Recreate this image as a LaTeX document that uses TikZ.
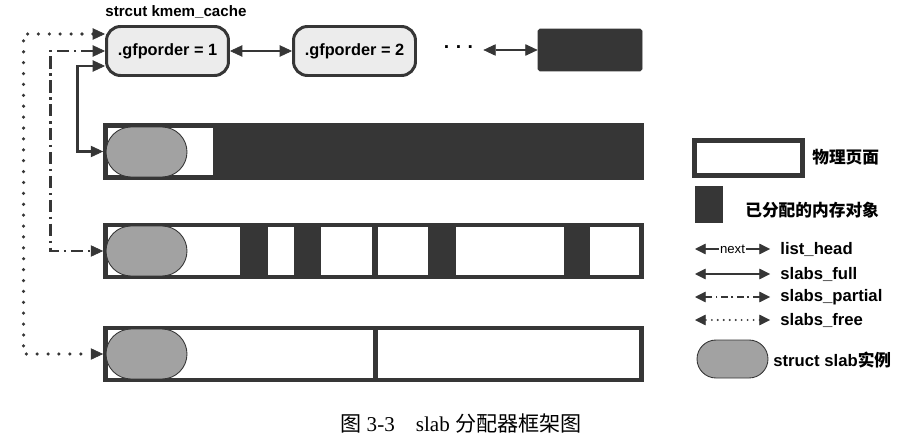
\documentclass[tikz,border=0pt]{standalone}
\usepackage{fontspec}
\setmainfont{Liberation Serif}
\newfontfamily\lsans{Liberation Sans}
\newfontfamily\cjk{Noto Sans CJK SC}
\usetikzlibrary{arrows.meta, shapes.misc, positioning}
\definecolor{ink}{HTML}{363636}
\definecolor{cachefill}{HTML}{ECECEC}
\definecolor{slabfill}{HTML}{A2A2A2}
\tikzset{
  % Set arrowhead
  >={Triangle[length=7pt,width=6.5pt,line width=0.4pt]},
  % kmem_cache node
  cache/.style={draw=ink, line width=1.7pt, fill=cachefill,
    rounded corners=0.28cm, minimum width=2.44cm, minimum height=0.98cm,
    inner sep=0pt, font=\lsans\bfseries\fontsize{9.3}{11}\selectfont},
  % Row of pages
  slabrow/.style={draw=ink, line width=2.8pt, fill=white,
    minimum width=10.72cm, minimum height=1.04cm, inner sep=0pt},
  % struct slab
  slabobj/.style={draw=ink, line width=0.5pt, fill=slabfill,
    shape=rounded rectangle, minimum width=1.62cm, minimum height=1cm,
    inner sep=0pt},
  % Links
  lfull/.style={<->, draw=ink, line width=1.2pt},
  lpartial/.style={lfull, line width=1.7pt,
    dash pattern=on 7pt off 2.6pt on 1.4pt off 2.6pt},
  lfree/.style={lfull, line width=2pt, line cap=round,
    dash pattern=on 0pt off 6.2pt},
  % Legend
  lbl/.style={anchor=west, inner sep=0pt,
    font=\lsans\bfseries\fontsize{9.5}{11}\selectfont},
  clbl/.style={lbl, font=\cjk\bfseries\fontsize{9.5}{11}\selectfont},
  legline/.style={<->, draw=ink, line width=0.9pt,
    >={Triangle[length=6pt,width=6pt,line width=0.3pt]}},
}

\begin{document}
\begin{tikzpicture}[x=0.02cm, y=-0.02cm]
  \useasboundingbox (0,0) rectangle (912,439);

  % kmem_cache list
  \node[cache] (g1) at (167.5,51) {.gfporder = 1};
  \node[cache] (g2) at (354.5,51) {.gfporder = 2};
  \node[anchor=south west, inner sep=0pt,
    font=\lsans\bfseries\fontsize{8.6}{10}\selectfont] (kc) at (105,19)
    {strcut kmem\_cache};
  \node[inner sep=0pt, font=\lsans\bfseries\fontsize{11}{12}\selectfont]
    (dots) at (459,50) {· · ·};
  \node[draw=ink, fill=ink, rounded corners=1pt, minimum width=2.08cm,
    minimum height=0.84cm] (g3) at (590,50) {};
  \draw[lfull] (g1) -- (g2);
  \draw[lfull, shorten <=0.18cm] (dots) -- (g3);

  % pages
  \node[slabrow] (s1) at (373.5,151.5) {};
  \node[slabrow] (s2) at (373.5,251) {};
  \node[slabrow] (s3) at (373.5,354) {};

  % allocated objects
  \fill[ink] (213,123) rectangle (644,180);
  \foreach \a/\b in {240/268, 294/321, 372/378, 428/456, 564/590}
    \fill[ink] (\a,223) rectangle (\b,279);
  \fill[ink] (372.5,326) rectangle (377.5,382);

  \node[slabobj] (o1) at (146.5,152) {};
  \node[slabobj] (o2) at (146.5,251) {};
  \node[slabobj] (o3) at (146.5,354) {};

  % slabs lists
  \draw[lfull] ([yshift=-0.3cm]g1.west) -- ++(-27.5,0) |- (s1.west);
  \draw[lpartial] (g1.west) -- ++(-54.5,0) |- (s2.west);
  \draw[lfree] ([yshift=0.34cm]g1.west) -- ++(-81.5,0) |- (s3.west);

  % legend
  \node[slabrow, minimum width=2.16cm, minimum height=0.7cm] (lpage)
    at (748.5,158) {};
  \node[clbl] (lpagetxt) at (812,157) {物理页面};
  \node[fill=ink, minimum width=0.56cm, minimum height=0.74cm,
    inner sep=0pt] (lobj) at (709,204.5) {};
  \node[clbl] (lobjtxt) at (745,210) {已分配的内存对象};

  \node[lbl] (lhead) at (780,249) {list\_head};
  \node[lbl] (lfulltxt) at (780,274) {slabs\_full};
  \node[lbl] (lparttxt) at (780,297) {slabs\_partial};
  \node[lbl] (lfreetxt) at (780,320) {slabs\_free};
  \draw[legline] ([xshift=-0.2cm]lhead.west) -- node[fill=white,
    inner sep=0.6pt, font=\lsans\fontsize{7.5}{8}\selectfont] {next}
    ++(-75,0);
  \draw[legline] ([xshift=-0.2cm]lfulltxt.west) -- ++(-75,0);
  \draw[legline, line width=1.1pt, dash pattern=on 4pt off 2pt on 1pt off 2pt]
    ([xshift=-0.2cm]lparttxt.west) -- ++(-75,0);
  \draw[legline, line width=1.2pt, line cap=round,
    dash pattern=on 0pt off 3.4pt]
    ([xshift=-0.2cm]lfreetxt.west) -- ++(-75,0);

  \node[slabobj, minimum width=1.42cm, minimum height=0.76cm] (lslab)
    at (732.5,359) {};
  \node[lbl] (lslabtxt) at (773,360) {struct slab{\cjk\bfseries 实例}};

  % caption
  \node[font=\fontsize{12}{14}\selectfont] (cap) at (461,423)
    {{\cjk 图}~3-3\quad slab {\cjk 分配器框架图}};
\end{tikzpicture}
\end{document}
